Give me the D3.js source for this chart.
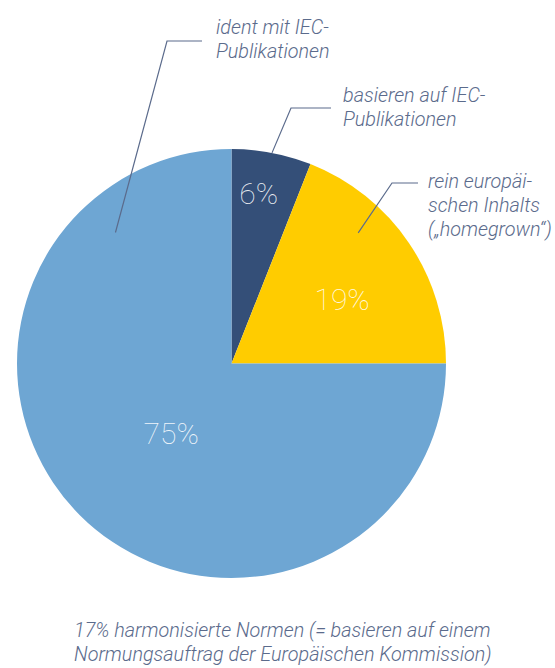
<!doctype html>
<head>
  <meta charset="utf-8">
  <script src="https://cdnjs.cloudflare.com/ajax/libs/d3/7.8.2/d3.min.js"></script>
</head>
<style>
    body { margin: 0; background: #ffffff; }
    svg { display: block; }
    .note { font-family: Roboto, sans-serif; font-style: italic; font-weight: 300; font-size: 19.8px; fill: #5b6b8c; }
    .pct { font-family: Roboto, sans-serif; font-weight: 100; font-size: 30px; fill: #ffffff; fill-opacity: 0.9; }
</style>
<body>
    <div id="chart"></div>
    <script>
        // Datos
        const categories = ["basieren auf IEC-Publikationen", "rein europäischen Inhalts", "ident mit IEC-Publikationen"];
        const values = [6, 19, 75];
        const colors = ['#344f78', '#ffcc00', '#6ea6d3'];
        const pctLabels = ["6%", "19%", "75%"];
        const noteLines = [
            ["basieren auf IEC-", "Publikationen"],
            ["rein europäi-", "schen Inhalts", "(„homegrown“)"],
            ["ident mit IEC-", "Publikationen"]
        ];
        const footLines = ["17% harmonisierte Normen (= basieren auf einem", "Normungsauftrag der Europäischen Kommission)"];

        const width = 555, height = 668;
        const cx = 231.5, cy = 363.5, radius = 214.5;

        const svg = d3.select('#chart').append('svg')
            .attr('width', width)
            .attr('height', height);

        const g = svg.append('g').attr('transform', `translate(${cx},${cy})`);

        const data = categories.map((c, i) => ({name: c, value: values[i], color: colors[i], pct: pctLabels[i], note: noteLines[i]}));

        const pie = d3.pie().sort(null).value(d => d.value);
        const arcs = pie(data);

        const arc = d3.arc().innerRadius(0).outerRadius(radius);

        g.selectAll('.slice')
            .data(arcs)
            .enter()
            .append('path')
            .attr('class', 'slice')
            .attr('d', arc)
            .attr('fill', d => d.data.color);

        // Posición de las etiquetas de porcentaje (radio y desplazamiento angular)
        const pctPos = [{r: 172, da: -0.03}, {r: 128, da: 0.07}, {r: 92, da: -0.07}];
        const polar = (a, r) => [r * Math.sin(a), -r * Math.cos(a)];

        g.selectAll('.pct')
            .data(arcs)
            .enter()
            .append('text')
            .attr('class', 'pct')
            .attr('text-anchor', 'middle')
            .attr('dy', '0.36em')
            .attr('transform', (d, i) => {
                const a = (d.startAngle + d.endAngle) / 2 + pctPos[i].da;
                const p = polar(a, pctPos[i].r);
                return `translate(${p[0]},${p[1]})`;
            })
            .text(d => d.data.pct);

        // Líneas de anotación: punto en la tarta, codo, final, texto
        const notes = [
            {a: 0.19, r: radius, elbow: [291, 108], end: [331, 108], tx: 343, ty: 102},
            {a: 0.77, r: 182, elbow: [392, 183], end: [418, 183], tx: 428, ty: 188},
            {a: -0.725, r: 175, elbow: [167, 41], end: [202, 41], tx: 216, ty: 34}
        ];

        notes.forEach((n, i) => {
            const p = polar(n.a, n.r);
            svg.append('polyline')
                .attr('points', [[cx + p[0], cy + p[1]], n.elbow, n.end].map(q => q.join(',')).join(' '))
                .attr('fill', 'none')
                .attr('stroke', '#5b6b8c')
                .attr('stroke-width', 1.2);
            const t = svg.append('text').attr('class', 'note').attr('x', n.tx).attr('y', n.ty);
            data[i].note.forEach((line, j) => {
                t.append('tspan').attr('x', n.tx).attr('y', n.ty + j * 24).text(line);
            });
        });

        // Nota al pie
        const foot = svg.append('text').attr('class', 'note').attr('x', 74).attr('y', 637);
        footLines.forEach((line, j) => {
            foot.append('tspan').attr('x', 74).attr('y', 637 + j * 24).text(line);
        });
    </script>
</body>
